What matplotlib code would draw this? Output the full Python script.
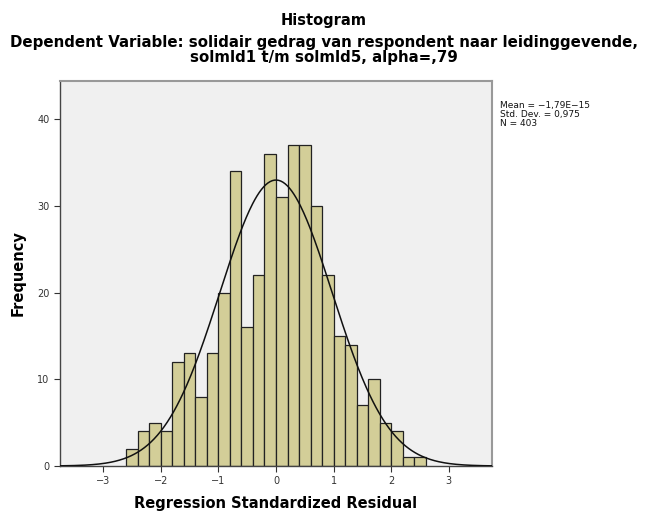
import numpy as np
import matplotlib
matplotlib.use("Agg")
import matplotlib.pyplot as plt

# Data
bin_left = [-2.6, -2.4, -2.2, -2.0, -1.8, -1.6, -1.4, -1.2, -1.0, -0.8, -0.6, -0.4, -0.2,
            0.0, 0.2, 0.4, 0.6, 0.8, 1.0, 1.2, 1.4, 1.6, 1.8, 2.0, 2.2, 2.4]
counts = [2, 4, 5, 4, 12, 13, 8, 13, 20, 34, 16, 22, 36,
          31, 37, 37, 30, 22, 15, 14, 7, 10, 5, 4, 1, 1]
bin_width = 0.2
mean_val = -1.79e-15
sd_val = 0.975
n_val = 403
x_ticks = [-3, -2, -1, 0, 1, 2, 3]
y_ticks = [0, 10, 20, 30, 40]

fig = plt.figure(figsize=(6.48, 5.13), dpi=100)
ax = fig.add_axes([60/648, 47/513, 432/648, 385/513])
ax.set_facecolor("#F0F0F0")

ax.bar(bin_left, counts, width=bin_width, align="edge", color="#D3CE98",
       edgecolor="#222222", linewidth=0.9, zorder=2)

xs = np.linspace(-3.75, 3.75, 400)
ys = n_val * bin_width / (sd_val * np.sqrt(2 * np.pi)) * np.exp(-0.5 * ((xs - mean_val) / sd_val) ** 2)
ax.plot(xs, ys, color="#111111", linewidth=1.1, zorder=3)

ax.set_xlim(-3.75, 3.75)
ax.set_ylim(0, 44.4)
ax.set_xticks(x_ticks)
ax.set_xticklabels(["\u2212" + str(-t) if t < 0 else str(t) for t in x_ticks])
ax.set_yticks(y_ticks)
ax.tick_params(axis="both", labelsize=7, colors="#333333", length=4, width=0.8)
for s in ax.spines.values():
    s.set_color("#444444")
    s.set_linewidth(1.0)
ax.spines["top"].set_color("#999999")
ax.spines["top"].set_linewidth(1.5)
ax.spines["right"].set_color("#999999")
ax.spines["right"].set_linewidth(1.5)

ax.set_xlabel("Regression Standardized Residual", fontsize=10.5, fontweight="bold", labelpad=7)
ax.set_ylabel("Frequency", fontsize=10.5, fontweight="bold", labelpad=8)

fig.text(0.5, 1 - 20/513, "Histogram", ha="center", va="center", fontsize=10.5, fontweight="bold")
fig.text(0.5, 1 - 50/513,
         "Dependent Variable: solidair gedrag van respondent naar leidinggevende,\nsolmld1 t/m solmld5, alpha=,79",
         ha="center", va="center", fontsize=10.8, fontweight="bold", linespacing=1.05)

fig.text(500/648, 1 - 101/513,
         "Mean = \u22121,79E\u221215\nStd. Dev. = 0,975\nN = 403",
         ha="left", va="top", fontsize=6.5, color="#111111", linespacing=1.0)

fig.savefig("out.png", dpi=100, facecolor="white")
